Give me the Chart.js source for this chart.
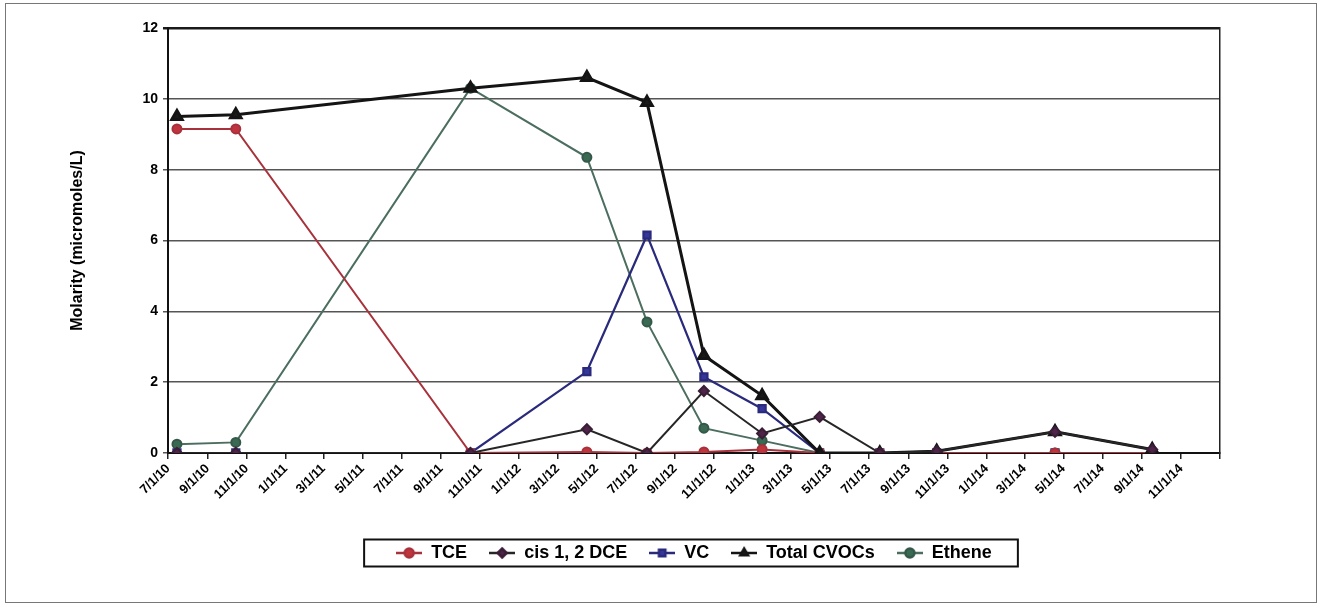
<!DOCTYPE HTML>
<html>
<head>
    <title>Molarity</title>
    <meta charset="utf-8" />
    <script src="https://cdn.jsdelivr.net/npm/chart.js@4.4.0/dist/chart.umd.min.js"></script>
    <style>
        body { margin: 0; background: #fff; }
    </style>
</head>
<body>
<canvas id="chartCanvas" width="1322" height="613"></canvas>
<script>
    // sample dates (M/D/YY) and values in micromoles/L
    const sample_dates = ['7/15/10', '10/15/10', '10/17/11', '4/16/12', '7/19/12', '10/16/12',
                          '1/15/13', '4/15/13', '7/18/13', '10/15/13', '4/18/14', '9/17/14'];
    const tce    = [9.15, 9.15, 0, 0.03, 0, 0.03, 0.1, 0, 0, 0, 0, 0];
    const cis_dce = [0, 0, 0, 0.67, 0, 1.75, 0.55, 1.02, 0, 0.05, 0.6, 0.1];
    const vc     = [0, 0, 0, 2.3, 6.15, 2.15, 1.25, 0, 0, 0, 0, 0];
    const total  = [9.5, 9.55, 10.3, 10.6, 9.9, 2.75, 1.62, 0, 0, 0.05, 0.6, 0.1];
    const ethene = [0.25, 0.3, 10.3, 8.35, 3.7, 0.7, 0.35, 0, 0, 0, 0, 0];

    const tick_labels = ['7/1/10', '9/1/10', '11/1/10', '1/1/11', '3/1/11', '5/1/11', '7/1/11', '9/1/11',
                         '11/1/11', '1/1/12', '3/1/12', '5/1/12', '7/1/12', '9/1/12', '11/1/12', '1/1/13',
                         '3/1/13', '5/1/13', '7/1/13', '9/1/13', '11/1/13', '1/1/14', '3/1/14', '5/1/14',
                         '7/1/14', '9/1/14', '11/1/14'];
    const axis_end = '1/1/15';
    const y_ticks = [0, 2, 4, 6, 8, 10, 12];

    const font_family = "'Liberation Sans', Arial, sans-serif";

    function to_day(s) {
        const [m, d, y] = s.split('/').map(Number);
        return (Date.UTC(2000 + y, m - 1, d) - Date.UTC(2010, 6, 1)) / 864e5;
    }

    function points(values) {
        return sample_dates.map((d, i) => ({ x: to_day(d), y: values[i] }));
    }

    function legend_icon(ds) {
        const c = document.createElement('canvas');
        c.width = 26; c.height = 14;
        const g = c.getContext('2d');
        g.strokeStyle = ds.borderColor;
        g.lineWidth = 2.5;
        g.beginPath(); g.moveTo(0, 7); g.lineTo(26, 7); g.stroke();
        g.fillStyle = ds.pointBackgroundColor;
        g.strokeStyle = ds.pointBorderColor;
        Chart.helpers.drawPoint(g, { pointStyle: ds.pointStyle, radius: 4.5, rotation: 0, borderWidth: 1 }, 13, 7);
        return c;
    }

    const series = [
        { label: 'TCE', data: points(tce), borderColor: '#a8323c', pointBackgroundColor: '#c0343e',
          pointBorderColor: '#a8323c', pointStyle: 'circle', pointRadius: 4.5, borderWidth: 2, order: 2 },
        { label: 'cis 1, 2 DCE', data: points(cis_dce), borderColor: '#262626', pointBackgroundColor: '#4e2448',
          pointBorderColor: '#3a1d36', pointStyle: 'rectRot', pointRadius: 5, borderWidth: 2, order: 0 },
        { label: 'VC', data: points(vc), borderColor: '#2a2a7c', pointBackgroundColor: '#35359a',
          pointBorderColor: '#2a2a7c', pointStyle: 'rect', pointRadius: 5, borderWidth: 2.2, order: 3 },
        { label: 'Total CVOCs', data: points(total), borderColor: '#141414', pointBackgroundColor: '#1a1a1a',
          pointBorderColor: '#141414', pointStyle: 'triangle', pointRadius: 6, borderWidth: 3, order: 1 },
        { label: 'Ethene', data: points(ethene), borderColor: '#4b6e5f', pointBackgroundColor: '#3b6a52',
          pointBorderColor: '#34584a', pointStyle: 'circle', pointRadius: 4.5, borderWidth: 2, order: 4 }
    ];

    const frame_plugin = {
        id: 'frame',
        afterDraw(chart) {
            const ctx = chart.ctx;
            ctx.save();
            // outer chart border
            ctx.strokeStyle = '#777';
            ctx.lineWidth = 1;
            ctx.strokeRect(5.5, 3.5, 1311, 599);
            // box round the legend
            const boxes = chart.legend.legendHitBoxes;
            if (boxes.length) {
                const first = boxes[0], last = boxes[boxes.length - 1];
                const l = first.left - 32, r = last.left + last.width + 26;
                const mid = first.top + first.height / 2;
                ctx.strokeStyle = '#111';
                ctx.lineWidth = 2;
                ctx.strokeRect(l, mid - 13.5, r - l, 27);
            }
            ctx.restore();
        }
    };

    const canvas = document.getElementById('chartCanvas');
    const chart = new Chart(canvas, {
        type: 'line',
        data: { datasets: series },
        options: {
            responsive: false,
            animation: false,
            devicePixelRatio: 1,
            layout: { padding: { left: 62, top: 28, right: 102, bottom: 41 } },
            elements: { line: { tension: 0 } },
            plugins: {
                tooltip: { enabled: false },
                legend: {
                    position: 'bottom',
                    fullSize: false,
                    labels: {
                        usePointStyle: true,
                        pointStyleWidth: 26,
                        padding: 22,
                        color: '#000',
                        font: { family: font_family, size: 18, weight: 'bold' },
                        generateLabels: c => c.data.datasets.map((ds, i) => ({
                            text: ds.label,
                            pointStyle: legend_icon(ds),
                            fillStyle: 'transparent',
                            strokeStyle: 'transparent',
                            lineWidth: 0,
                            fontColor: '#000',
                            hidden: false,
                            datasetIndex: i
                        }))
                    }
                }
            },
            scales: {
                x: {
                    type: 'linear',
                    min: 0,
                    max: to_day(axis_end),
                    afterBuildTicks: s => {
                        s.ticks = tick_labels.concat([axis_end]).map(t => ({ value: to_day(t) }));
                    },
                    afterFit: s => { s.height = 69; },
                    ticks: {
                        autoSkip: false,
                        maxRotation: 45,
                        minRotation: 45,
                        padding: 2,
                        color: '#000',
                        font: { family: font_family, size: 13, weight: 'bold' },
                        callback: (v, i) => tick_labels[i] ?? ''
                    },
                    grid: { drawOnChartArea: false, drawTicks: true, tickLength: 6, color: '#222', lineWidth: 1.5 },
                    border: { display: true, color: '#111', width: 2 }
                },
                y: {
                    min: 0,
                    max: 12,
                    afterBuildTicks: s => { s.ticks = y_ticks.map(v => ({ value: v })); },
                    afterFit: s => { s.width = 106; },
                    ticks: {
                        padding: 5,
                        color: '#000',
                        font: { family: font_family, size: 14, weight: 'bold' }
                    },
                    grid: {
                        color: c => c.tick && c.tick.value === 12 ? '#1a1a1a' : '#555',
                        lineWidth: c => c.tick && c.tick.value === 12 ? 2.5 : 1.5,
                        tickLength: 5
                    },
                    border: { display: true, color: '#111', width: 2 },
                    title: {
                        display: true,
                        text: 'Molarity (micromoles/L)',
                        color: '#000',
                        padding: { top: 6, bottom: 0 },
                        font: { family: font_family, size: 16, weight: 'bold' }
                    }
                },
                y_right: {
                    position: 'right',
                    min: 0,
                    max: 12,
                    afterFit: s => { s.width = 0; },
                    ticks: { display: false },
                    grid: { display: false, drawTicks: false },
                    border: { display: true, color: '#222', width: 1.5 }
                }
            }
        },
        plugins: [frame_plugin]
    });
</script>
</body>
</html>
